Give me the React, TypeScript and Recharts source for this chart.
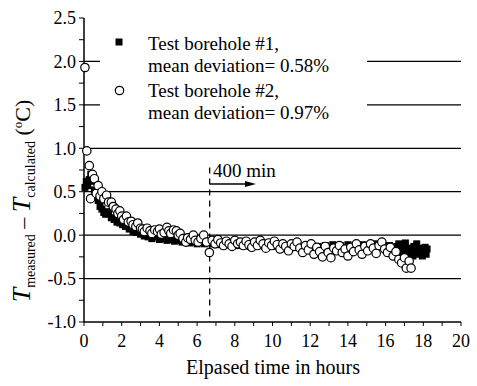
import React from 'react';
import { ScatterChart, Scatter, XAxis, YAxis, ReferenceLine } from 'recharts';

// Test borehole #1 (filled squares)
const borehole1Hours = [
  0.05, 0.12, 0.2, 0.28, 0.36, 0.45, 0.55, 0.65, 0.75, 0.85, 0.95, 1.05, 1.15, 1.3, 1.45, 1.6, 1.75, 1.9,
  2.05, 2.2, 2.4, 2.6, 2.8, 3.0, 3.2, 3.4, 3.6, 3.8, 4.0, 4.2, 4.4, 4.6, 4.8, 5.0, 5.2, 5.4, 5.6, 5.8,
  6.0, 6.2, 6.4, 6.6, 6.8, 7.0, 7.2, 7.4, 7.6, 7.8, 8.0, 8.2, 8.4, 8.6, 8.8, 9.0, 9.2, 9.4, 9.6, 9.8,
  10.0, 10.2, 10.4, 10.6, 10.8, 11.0, 11.2, 11.4, 11.6, 11.8, 12.0, 12.2, 12.4, 12.6, 12.8, 13.0, 13.2,
  13.4, 13.6, 13.8, 14.0, 14.2, 14.4, 14.6, 14.8, 15.0, 15.2, 15.4, 15.6, 15.8, 16.0, 16.2, 16.4, 16.6,
  16.7, 16.8, 16.9, 17.0, 17.05, 17.1, 17.2, 17.3, 17.4, 17.45, 17.5, 17.6, 17.65, 17.7, 17.8, 17.9,
  17.95, 18.0, 18.1, 18.15, 18.2,
];
const borehole1Dev = [
  0.55, 0.62, 0.57, 0.64, 0.7, 0.62, 0.52, 0.45, 0.4, 0.33, 0.3, 0.26, 0.24, 0.27, 0.2, 0.18, 0.15, 0.14,
  0.12, 0.1, 0.07, 0.04, 0.03, 0.01, -0.01, -0.02, -0.04, -0.02, -0.05, -0.04, -0.06, -0.05, -0.07, -0.06, -0.08, -0.07, -0.09, -0.08,
  -0.1, -0.09, -0.1, -0.08, -0.1, -0.09, -0.11, -0.1, -0.09, -0.11, -0.1, -0.12, -0.1, -0.11, -0.13, -0.1, -0.12, -0.11, -0.13, -0.12,
  -0.1, -0.13, -0.12, -0.14, -0.12, -0.13, -0.11, -0.14, -0.13, -0.15, -0.12, -0.14, -0.13, -0.15, -0.12, -0.14, -0.11,
  -0.13, -0.12, -0.14, -0.11, -0.13, -0.12, -0.14, -0.11, -0.13, -0.12, -0.1, -0.12, -0.11, -0.13, -0.12, -0.14, -0.13,
  -0.1, -0.15, -0.2, -0.12, -0.09, -0.17, -0.22, -0.15, -0.19, -0.24, -0.13, -0.2, -0.1, -0.16, -0.22, -0.15,
  -0.24, -0.19, -0.14, -0.22, -0.16,
];

// Test borehole #2 (open circles)
const borehole2Hours = [
  0.05, 0.15, 0.28, 0.35, 0.45, 0.55, 0.65, 0.75, 0.85, 0.95, 1.05, 1.2, 1.3, 1.45, 1.55, 1.7, 1.8, 1.9,
  2.0, 2.1, 2.25, 2.35, 2.5, 2.6, 2.75, 2.85, 3.0, 3.1, 3.2, 3.35, 3.5, 3.6, 3.75, 3.9, 4.0, 4.1, 4.25,
  4.4, 4.5, 4.6, 4.75, 4.9, 5.0, 5.1, 5.25, 5.4, 5.5, 5.65, 5.8, 5.9, 6.05, 6.2, 6.35, 6.5, 6.65, 6.8,
  6.95, 7.1, 7.25, 7.4, 7.55, 7.7, 7.85, 8.0, 8.15, 8.3, 8.45, 8.6, 8.75, 8.9, 9.05, 9.2, 9.35, 9.5,
  9.65, 9.8, 9.95, 10.1, 10.25, 10.4, 10.55, 10.7, 10.85, 11.0, 11.15, 11.3, 11.45, 11.6, 11.75, 11.9,
  12.05, 12.2, 12.35, 12.5, 12.65, 12.8, 12.95, 13.1, 13.25, 13.4, 13.55, 13.7, 13.85, 14.0, 14.15, 14.3,
  14.45, 14.6, 14.75, 14.9, 15.05, 15.2, 15.35, 15.5, 15.65, 15.8, 15.95, 16.1, 16.25, 16.4, 16.55, 16.7,
  16.85, 17.0, 17.1, 17.25, 17.35,
];
const borehole2Dev = [
  1.93, 0.97, 0.8, 0.42, 0.7, 0.65, 0.48, 0.57, 0.45, 0.5, 0.42, 0.46, 0.38, 0.38, 0.33, 0.3, 0.25, 0.28,
  0.22, 0.18, 0.22, 0.15, 0.16, 0.12, 0.1, 0.14, 0.08, 0.07, 0.04, 0.08, 0.05, 0.02, 0.06, 0.04, 0.07, 0.01, 0.03,
  0.09, 0.05, 0.02, 0.06, 0.05, 0.0, 0.02, -0.04, -0.08, -0.03, -0.05, 0.0, -0.06, -0.08, -0.04, 0.0, -0.08, -0.2, -0.06,
  -0.1, -0.05, -0.09, -0.12, -0.07, -0.1, -0.13, -0.06, -0.1, -0.08, -0.12, -0.07, -0.11, -0.14, -0.08, -0.12, -0.06, -0.1,
  -0.15, -0.09, -0.12, -0.07, -0.11, -0.16, -0.1, -0.13, -0.18, -0.1, -0.13, -0.08, -0.15, -0.2, -0.12, -0.17,
  -0.1, -0.22, -0.14, -0.19, -0.25, -0.13, -0.2, -0.26, -0.15, -0.18, -0.12, -0.2, -0.16, -0.24, -0.14, -0.19,
  -0.1, -0.17, -0.22, -0.13, -0.18, -0.1, -0.15, -0.21, -0.12, -0.08, -0.16, -0.2, -0.14, -0.24, -0.19, -0.28,
  -0.32, -0.26, -0.38, -0.3, -0.38,
];

const xTicks = [0, 1, 2, 3, 4, 5, 6, 7, 8, 9, 10, 11, 12, 13, 14, 15, 16, 17, 18, 19, 20];
const yTicks = [-1, -0.75, -0.5, -0.25, 0, 0.25, 0.5, 0.75, 1, 1.25, 1.5, 1.75, 2, 2.25, 2.5];
const gridLevels = [2, 1.5, 1, 0.5, 0, -0.5];
const marker400Hours = 400 / 60;

const legendLabels = ['Test borehole #1,', 'mean deviation= 0.58%', 'Test borehole #2,', 'mean deviation= 0.97%'];
const xTitle = 'Elpased time in hours';

const data1 = borehole1Hours.map((h, i) => ({ h, d: borehole1Dev[i] }));
const data2 = borehole2Hours.map((h, i) => ({ h, d: borehole2Dev[i] }));

const FONT = 'Liberation Serif, DejaVu Serif, Times New Roman, serif';
const W = 477;
const H = 386;

const SquareShape = (p: any) => (
  <rect x={p.cx - 3.5} y={p.cy - 3.5} width={7} height={7} fill="#000" />
);
const CircleShape = (p: any) => (
  <circle cx={p.cx} cy={p.cy} r={4.2} fill="#fff" stroke="#000" strokeWidth={1.2} />
);

const xFmt = (v: number) => (v % 2 === 0 ? String(v) : '');
const yFmt = (v: number) => (Math.abs(v * 2 - Math.round(v * 2)) < 1e-9 ? v.toFixed(1) : '');

const tickStyle = { fill: '#000', fontSize: 18, fontFamily: FONT, style: { fontFamily: FONT } };

export default function App() {
  return (
    <div style={{ position: 'absolute', left: 0, top: 0, width: W, height: H, background: '#fff', fontFamily: FONT }}>
      <ScatterChart width={W} height={H} margin={{ top: 18, right: 16, bottom: 0, left: 30 }} style={{ fontFamily: FONT }}>
        <XAxis
          dataKey="h"
          type="number"
          domain={[0, 20]}
          ticks={xTicks}
          tickFormatter={xFmt}
          interval={0}
          height={64}
          tickSize={4}
          tickMargin={8}
          stroke="#000"
          axisLine={{ stroke: '#000', strokeWidth: 1.5 }}
          tick={tickStyle}
        />
        <XAxis
          xAxisId="top"
          orientation="top"
          type="number"
          domain={[0, 20]}
          ticks={xTicks}
          interval={0}
          height={0}
          mirror
          tick={false}
          tickSize={4}
          stroke="#000"
          axisLine={{ stroke: '#000', strokeWidth: 1.5 }}
        />
        <YAxis
          dataKey="d"
          type="number"
          domain={[-1, 2.5]}
          ticks={yTicks}
          tickFormatter={yFmt}
          interval={0}
          width={54}
          tickSize={5}
          tickMargin={3}
          stroke="#000"
          axisLine={{ stroke: '#000', strokeWidth: 1.5 }}
          tick={tickStyle}
        />
        <YAxis
          yAxisId="right"
          orientation="right"
          type="number"
          domain={[-1, 2.5]}
          ticks={yTicks}
          interval={0}
          width={0}
          mirror
          tick={false}
          tickSize={4}
          stroke="#000"
          axisLine={{ stroke: '#000', strokeWidth: 1.5 }}
        />
        {gridLevels.map((g) => (
          <ReferenceLine key={g} y={g} stroke="#000" strokeWidth={1.2} />
        ))}
        <ReferenceLine
          segment={[
            { x: marker400Hours, y: 0.78 },
            { x: marker400Hours, y: -1 },
          ]}
          stroke="#000"
          strokeWidth={1.3}
          strokeDasharray="6 5"
        />
        <Scatter data={data1} dataKey="d" shape={SquareShape} isAnimationActive={false} />
        <Scatter data={data2} dataKey="d" shape={CircleShape} isAnimationActive={false} />
      </ScatterChart>
      <svg
        width={W}
        height={H}
        style={{ position: 'absolute', left: 0, top: 0, pointerEvents: 'none', fontFamily: FONT }}
      >
        <rect x={100} y={25} width={267} height={115} fill="#fff" />
        <rect x={115.5} y={38.5} width={7} height={7} fill="#000" />
        <circle cx={119.5} cy={90.5} r={4.2} fill="#fff" stroke="#000" strokeWidth={1.2} />
        <text x={148} y={50} fontSize={19} fill="#000">{legendLabels[0]}</text>
        <text x={148} y={72} fontSize={19} fill="#000">{legendLabels[1]}</text>
        <text x={148} y={97} fontSize={19} fill="#000">{legendLabels[2]}</text>
        <text x={148} y={119} fontSize={19} fill="#000">{legendLabels[3]}</text>
        <text x={213} y={177} fontSize={19} fill="#000">400 min</text>
        <line x1={210} y1={184} x2={248} y2={184} stroke="#000" strokeWidth={1.3} />
        <polygon points="245,181 256,184 245,187" fill="#000" />
        <text x={273} y={374} fontSize={20} textAnchor="middle" fill="#000">{xTitle}</text>
        <text
          x={30}
          y={201}
          transform="rotate(-90, 30, 201)"
          textAnchor="middle"
          fontSize={22}
          fill="#000"
        >
          <tspan fontStyle="italic" fontSize={26}>T</tspan>
          <tspan fontSize={14} dy={5}>measured</tspan>
          <tspan dy={-5}> – </tspan>
          <tspan fontStyle="italic" fontSize={26}>T</tspan>
          <tspan fontSize={14} dy={5}>calculated</tspan>
          <tspan dy={-5}> (</tspan>
          <tspan fontSize={13} dy={-8}>o</tspan>
          <tspan dy={8}>C)</tspan>
        </text>
      </svg>
    </div>
  );
}
